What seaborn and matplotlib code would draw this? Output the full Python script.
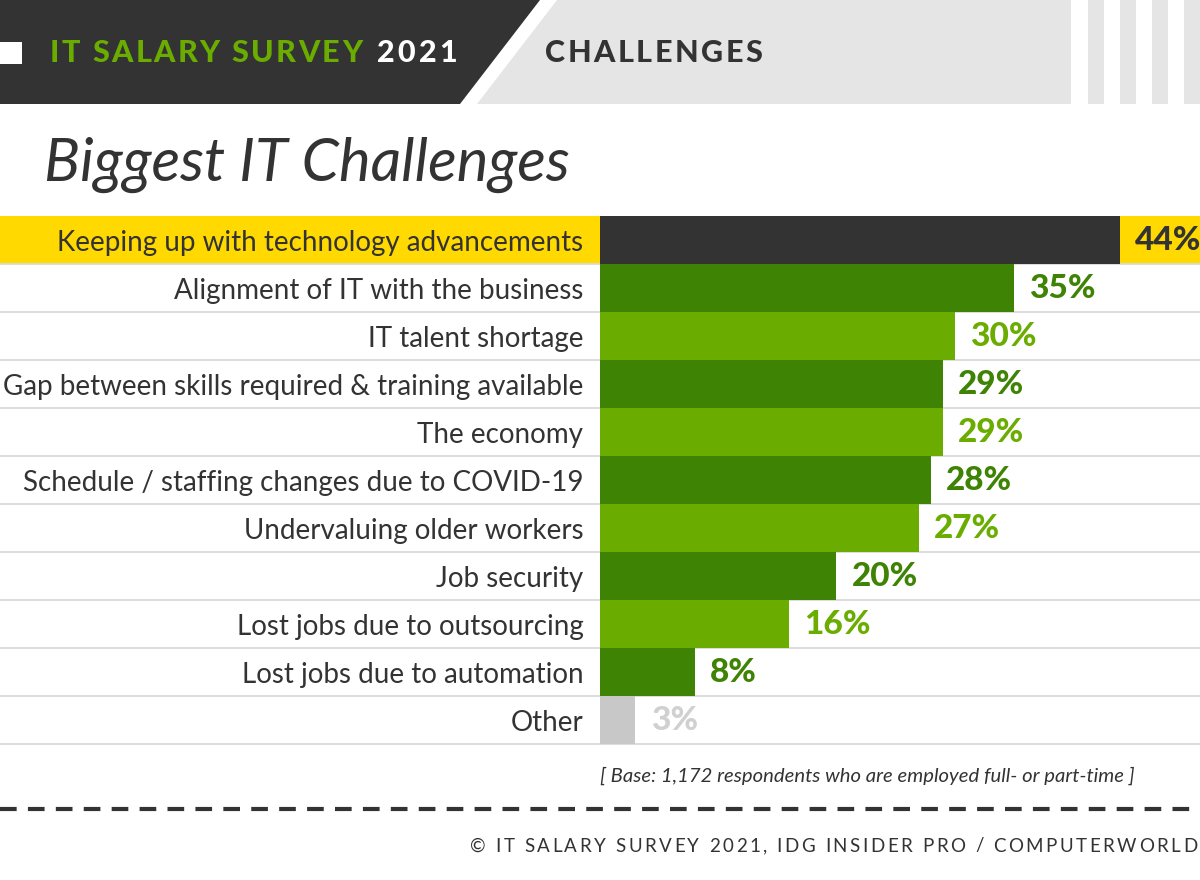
import matplotlib
matplotlib.use("Agg")
import matplotlib.pyplot as plt
import seaborn as sns
import pandas as pd
from matplotlib.patches import Polygon, Rectangle

# ---------------- data ----------------
categories = [
    "Keeping up with technology advancements",
    "Alignment of IT with the business",
    "IT talent shortage",
    "Gap between skills required & training available",
    "The economy",
    "Schedule / staffing changes due to COVID-19",
    "Undervaluing older workers",
    "Job security",
    "Lost jobs due to outsourcing",
    "Lost jobs due to automation",
    "Other",
]
values = [44, 35, 30, 29, 29, 28, 27, 20, 16, 8, 3]
value_labels = ["44%", "35%", "30%", "29%", "29%", "28%", "27%", "20%", "16%", "8%", "3%"]

DARK = "#333333"
G1 = "#3f8305"
G2 = "#6aad00"
GREY = "#c8c8c8"
bar_colors = [DARK, G1, G2, G1, G2, G1, G2, G1, G2, G1, GREY]
label_colors = [DARK, G1, G2, G1, G2, G1, G2, G1, G2, G1, "#d0d0d0"]

title = "Biggest IT Challenges"
header_left = "IT SALARY SURVEY"
header_year = "2021"
header_right = "CHALLENGES"
base_note = "[ Base: 1,172 respondents who are employed full- or part-time ]"
credit = "© IT SALARY SURVEY 2021, IDG INSIDER PRO / COMPUTERWORLD"

# ---------------- setup ----------------
sns.set_theme(style="white")
FONT = ["Lato", "DejaVu Sans"]
plt.rcParams["font.family"] = FONT

W, H = 1200, 880
fig = plt.figure(figsize=(12, 8.8), dpi=100)
fig.patch.set_facecolor("white")

bg = fig.add_axes([0, 0, 1, 1], zorder=0)
bg.set_xlim(0, W)
bg.set_ylim(H, 0)
bg.axis("off")

# header band
HB = 104
bg.add_patch(Polygon([(0, 0), (540, 0), (460, HB), (0, HB)], closed=True, color=DARK, lw=0))
bg.add_patch(Polygon([(557, 0), (1071, 0), (1071, HB), (477, HB)], closed=True, color="#e5e5e5", lw=0))
for x0 in (1088, 1120, 1152, 1184):
    bg.add_patch(Rectangle((x0, 0), 16, HB, color="#e5e5e5", lw=0))
bg.add_patch(Rectangle((0, 42), 22, 22, color="white", lw=0))

renderer = fig.canvas.get_renderer()


def spaced_text(s, x0, x1, y, **kw):
    """Draw string s letter-spaced so that it spans x0..x1 (pixels)."""
    widths = []
    for ch in s:
        if ch == " ":
            a = bg.text(0, 0, "a a", **kw)
            b = bg.text(0, 0, "aa", **kw)
            w = a.get_window_extent(renderer).width - b.get_window_extent(renderer).width
            a.remove(); b.remove()
        else:
            t = bg.text(0, 0, ch, **kw)
            w = t.get_window_extent(renderer).width
            t.remove()
        widths.append(w)
    gap = (x1 - x0 - sum(widths)) / max(len(s) - 1, 1)
    x = x0
    for ch, w in zip(s, widths):
        if ch != " ":
            bg.text(x, y, ch, ha="left", va="center", **kw)
        x += w + gap


spaced_text(header_left, 50, 362, 53, color=G2, fontsize=22, fontweight="black")
spaced_text(header_year, 377, 457, 53, color="white", fontsize=22, fontweight="black")
spaced_text(header_right, 545, 762, 53, color=DARK, fontsize=22, fontweight="black")

# title
bg.text(44, 165, title, ha="left", va="center", fontsize=43, fontstyle="italic",
        fontweight="normal", color=DARK)

# chart area geometry (pixels)
TOP, ROW = 216, 48
n = len(categories)
BOTTOM = TOP + ROW * n

# highlight row background
bg.add_patch(Rectangle((0, TOP), W, ROW, color="#ffd900", lw=0))
# row separators
for i in range(1, n + 1):
    yy = TOP + ROW * i
    bg.plot([0, W], [yy, yy], color="#d9d9d9", lw=1.3, solid_capstyle="butt")

# dashed rule
bg.plot([0, W], [809, 809], color=DARK, lw=3.0, linestyle=(0, (4.0, 2.7)), dash_capstyle="butt")

# notes
bg.text(1135, 776, base_note, ha="right", va="center", fontsize=14.6, fontstyle="italic", color=DARK)
spaced_text(credit, 470, 1197, 846, color=DARK, fontsize=13.5)

# ---------------- bar chart ----------------
ax = fig.add_axes([600 / W, 1 - BOTTOM / H, 600 / W, ROW * n / H], zorder=1)
ax.patch.set_alpha(0)
df = pd.DataFrame({"category": categories, "value": values})
sns.barplot(data=df, x="value", y="category", hue="category", palette=bar_colors,
            dodge=False, legend=False, width=1.0, orient="h", ax=ax, saturation=1,
            linewidth=0, edgecolor="none")
ax.set_xlim(0, 44 * 600 / 520)
ax.set_ylim(n - 0.5, -0.5)
ax.set_xlabel("")
ax.set_ylabel("")
ax.set_xticks([])
sns.despine(ax=ax, left=True, bottom=True)
ax.tick_params(axis="y", length=0, pad=12)
for lab in ax.get_yticklabels():
    lab.set_fontsize(20)
    lab.set_color(DARK)
    lab.set_fontfamily(FONT)

for i, (v, txt) in enumerate(zip(values, value_labels)):
    ax.annotate(txt, xy=(v, i), xytext=(11, 0), textcoords="offset points",
                ha="left", va="center", fontsize=24, fontweight="black",
                color=label_colors[i])

fig.savefig("out.png", dpi=100, facecolor="white")
